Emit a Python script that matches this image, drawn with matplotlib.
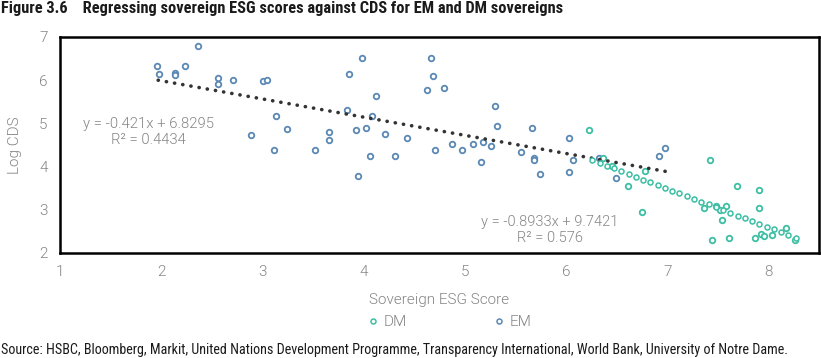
import numpy as np
import matplotlib
matplotlib.use("Agg")
import matplotlib.pyplot as plt
from matplotlib.lines import Line2D

# ---------------- data ----------------
em_x = [1.96, 1.98, 2.14, 2.14, 2.24, 2.36, 2.56, 2.56, 2.71, 2.89, 3.01, 3.05,
        3.13, 3.11, 3.24, 3.52, 3.66, 3.66, 3.86, 3.84, 3.98, 3.92, 3.94, 4.02,
        4.08, 4.12, 4.06, 4.21, 4.31, 4.43, 4.67, 4.69, 4.63, 4.79, 4.71, 4.87,
        4.97, 5.08, 5.18, 5.16, 5.26, 5.30, 5.32, 5.56, 5.66, 5.68, 5.68, 5.74,
        6.03, 6.07, 6.03, 6.33, 6.49, 6.92, 6.98]
em_y = [6.34, 6.15, 6.16, 6.11, 6.34, 6.80, 6.06, 5.92, 6.01, 4.72, 5.97, 6.01,
        5.18, 4.39, 4.86, 4.39, 4.80, 4.62, 6.14, 5.31, 6.51, 4.85, 3.78, 4.89,
        5.17, 5.63, 4.25, 4.76, 4.25, 4.66, 6.51, 6.10, 5.77, 5.82, 4.39, 4.52,
        4.39, 4.52, 4.57, 4.11, 4.48, 5.40, 4.94, 4.34, 4.89, 4.20, 4.15, 3.83,
        4.66, 4.15, 3.88, 4.20, 3.74, 4.25, 4.43]

dm_x = [6.23, 6.37, 6.45, 6.61, 6.78, 6.75, 7.42, 7.36, 7.48, 7.52, 7.58, 7.54,
        7.69, 7.91, 7.91, 7.44, 7.61, 7.87, 7.93, 7.96, 8.04, 8.17, 8.26]
dm_y = [4.85, 4.20, 4.01, 3.55, 3.89, 2.95, 4.15, 3.04, 3.09, 3.00, 3.09, 2.76,
        3.55, 3.46, 3.04, 2.30, 2.35, 2.35, 2.44, 2.39, 2.42, 2.58, 2.30]

em_fit = (-0.421, 6.8295)
em_fit_range = (1.97, 6.98)
dm_fit = (-0.8933, 9.7421)
dm_fit_range = (6.26, 8.27)

em_eq = "y = -0.421x + 6.8295\nR\u00b2 = 0.4434"
dm_eq = "y = -0.8933x + 9.7421\nR\u00b2 = 0.576"

x_ticks = [1, 2, 3, 4, 5, 6, 7, 8]
y_ticks = [2, 3, 4, 5, 6, 7]

title = "Figure 3.6    Regressing sovereign ESG scores against CDS for EM and DM sovereigns"
source = ("Source: HSBC, Bloomberg, Markit, United Nations Development Programme, "
          "Transparency International, World Bank, University of Notre Dame.")

# ---------------- style ----------------
EM_C = "#5b88b5"
DM_C = "#3cbfa3"
TREND_C = "#333333"
GRAY = "#858585"
light_font = ["Roboto", "DejaVu Sans"]
narrow_font = ["Liberation Sans Narrow", "Roboto Condensed", "Liberation Sans", "DejaVu Sans"]

W, H = 821, 358
fig = plt.figure(figsize=(W / 100, H / 100), dpi=100)
ax = fig.add_axes([60 / W, 1 - 253 / H, 759 / W, 216 / H])

ax.plot(em_x, em_y, ls="none", marker="o", ms=4.0, mfc="white", mec=EM_C, mew=1.3, zorder=3)
ax.plot(dm_x, dm_y, ls="none", marker="o", ms=4.0, mfc="white", mec=DM_C, mew=1.3, zorder=3)

# EM trend (dark round dots)
xs = np.linspace(em_fit_range[0], em_fit_range[1], 50)
ax.plot(xs, em_fit[0] * xs + em_fit[1], color=TREND_C, lw=2.6,
        ls=(0, (0.05, 2.25)), dash_capstyle="round", zorder=4)

# DM trend (teal open dots)
xd = np.linspace(dm_fit_range[0], dm_fit_range[1], 29)
ax.plot(xd, dm_fit[0] * xd + dm_fit[1], ls="none", marker="o", ms=3.6,
        mfc="white", mec=DM_C, mew=1.1, zorder=4)

ax.set_xlim(1, 8.5)
ax.set_ylim(2, 7)
ax.set_xticks(x_ticks)
ax.set_yticks(y_ticks)
ax.tick_params(length=0, labelsize=11, labelcolor=GRAY, pad=9)
for lab in ax.get_xticklabels() + ax.get_yticklabels():
    lab.set_family(light_font)
    lab.set_fontweight(300)
for sp in ax.spines.values():
    sp.set_color("black")
    sp.set_linewidth(1.8)

ax.set_xlabel("Sovereign ESG Score", fontsize=11, color=GRAY, family=light_font,
              fontweight=300, labelpad=10)
ax.set_ylabel("Log CDS", fontsize=11, color=GRAY, family=light_font,
              fontweight=300, labelpad=12)

ax.text(1.87, 4.80, em_eq, ha="center", va="center", fontsize=10.7, color=GRAY,
        family=light_font, fontweight=300, linespacing=1.25)
ax.text(5.84, 2.53, dm_eq, ha="center", va="center", fontsize=10.5, color=GRAY,
        family=light_font, fontweight=300, linespacing=1.12)

handles = [Line2D([], [], ls="none", marker="o", ms=3.6, mfc="white", mec=DM_C, mew=1.1, label="DM"),
           Line2D([], [], ls="none", marker="o", ms=3.6, mfc="white", mec=EM_C, mew=1.1, label="EM")]
leg = fig.legend(handles=handles, loc="center", bbox_to_anchor=(449 / W, 1 - 322 / H),
                 ncol=2, frameon=False, handletextpad=0.3, columnspacing=5.6,
                 handlelength=0.8, prop={"family": light_font, "size": 11, "weight": 300})
for t in leg.get_texts():
    t.set_color(GRAY)

fig.text(1 / W, 1 - 8 / H, title, ha="left", va="center", fontsize=11.8,
         fontweight="bold", family=narrow_font, color="#1a1a1a")
fig.text(1 / W, 1 - 350 / H, source, ha="left", va="center", fontsize=10.2,
         family=narrow_font, color="#1a1a1a")

fig.savefig("out.png", dpi=100)
